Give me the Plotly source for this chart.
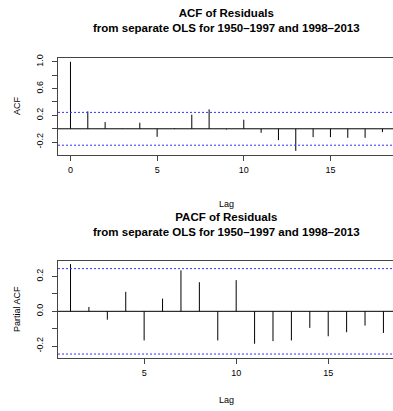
import plotly.graph_objects as go

acf_lags = list(range(0, 19))
acf_vals = [1.0, 0.26, 0.10, 0.005, 0.09, -0.12, 0.01, 0.21, 0.29, -0.01, 0.135,
            -0.06, -0.17, -0.33, -0.125, -0.125, -0.135, -0.135, -0.05]
pacf_lags = list(range(1, 19))
pacf_vals = [0.271, 0.025, -0.048, 0.112, -0.167, 0.073, 0.235, 0.167, -0.167, 0.179,
             -0.186, -0.171, -0.167, -0.095, -0.143, -0.12, -0.082, -0.124]
conf = 0.245
acf_ticks = [-0.2, 0.0, 0.2, 0.4, 0.6, 0.8, 1.0]
acf_ticklabels = ["-0.2", "", "0.2", "", "0.6", "", "1.0"]
pacf_ticks = [-0.2, -0.1, 0.0, 0.1, 0.2]
pacf_ticklabels = ["-0.2", "", "0.0", "", "0.2"]
lag_ticks_top = [0, 5, 10, 15]
lag_ticks_bot = [5, 10, 15]
title_top = "<b>ACF of Residuals<br>from separate OLS for 1950\u20131997 and 1998\u20132013</b>"
title_bot = "<b>PACF of Residuals<br>from separate OLS for 1950\u20131997 and 1998\u20132013</b>"

W, H = 393, 411
FONT = "Liberation Sans, Arial, Helvetica, sans-serif"


def stems(lags, vals):
    xs, ys = [], []
    for l, v in zip(lags, vals):
        xs += [l, l, None]
        ys += [0, v, None]
    return xs, ys


fig = go.Figure()
x1, y1 = stems(acf_lags, acf_vals)
fig.add_trace(go.Scatter(x=x1, y=y1, mode="lines", line=dict(color="black", width=1),
                         xaxis="x", yaxis="y", showlegend=False, hoverinfo="skip"))
x2, y2 = stems(pacf_lags, pacf_vals)
fig.add_trace(go.Scatter(x=x2, y=y2, mode="lines", line=dict(color="black", width=1),
                         xaxis="x2", yaxis="y2", showlegend=False, hoverinfo="skip"))


def px_x(p):
    return p / W


def px_y(p):
    return (H - p) / H


top_dom = [px_y(152), px_y(54.7)]
bot_dom = [px_y(357), px_y(259.3)]
xdom = [px_x(58), 1.0]

axis_common = dict(showgrid=False, zeroline=False, showline=True, linecolor="#444",
                   linewidth=1, ticks="outside", ticklen=5, tickcolor="#444",
                   tickfont=dict(size=9, color="black", family=FONT))

fig.update_layout(
    width=W, height=H, margin=dict(l=0, r=0, t=0, b=0),
    plot_bgcolor="white", paper_bgcolor="white",
    font=dict(family=FONT, color="black"),
    xaxis=dict(domain=xdom, anchor="y", range=[-0.72, 18.61], tickvals=lag_ticks_top,
               mirror=True, ticklabelstandoff=2, **axis_common),
    yaxis=dict(domain=top_dom, anchor="x", range=[-0.384, 1.054], tickvals=acf_ticks,
               ticktext=acf_ticklabels, tickangle=-90, ticklabelstandoff=5,
               **axis_common),
    xaxis2=dict(domain=xdom, anchor="y2", range=[0.32, 18.52], tickvals=lag_ticks_bot,
                mirror=True, ticklabelstandoff=2, **axis_common),
    yaxis2=dict(domain=bot_dom, anchor="x2", range=[-0.265, 0.29], tickvals=pacf_ticks,
                ticktext=pacf_ticklabels, tickangle=-90, ticklabelstandoff=5,
                **axis_common),
)

# zero lines and confidence bands
for xr, yr in (("x", "y"), ("x2", "y2")):
    fig.add_shape(type="line", xref=xr + " domain", yref=yr, x0=0, x1=1, y0=0, y1=0,
                  line=dict(color="black", width=1))
    for c in (conf, -conf):
        fig.add_shape(type="line", xref=xr + " domain", yref=yr, x0=0, x1=1, y0=c, y1=c,
                      line=dict(color="#3333ff", width=1, dash="2px,2px"))

ann_font = dict(size=9, family=FONT, color="black")
for txt, x, y, ang in (("Lag", 226.7, 202, 0), ("Lag", 226.7, 399.5, 0),
                       ("ACF", 17, 103, -90), ("Partial ACF", 17, 308, -90)):
    fig.add_annotation(text=txt, xref="paper", yref="paper", x=px_x(x), y=px_y(y),
                       xanchor="center", yanchor="middle", showarrow=False,
                       textangle=ang, font=ann_font)

fig.add_annotation(text=title_top, xref="paper", yref="paper", x=px_x(226), y=px_y(17),
                   xanchor="center", yanchor="middle", showarrow=False,
                   font=dict(size=11.5, family=FONT, color="black"))
fig.add_annotation(text=title_bot, xref="paper", yref="paper", x=px_x(226), y=px_y(223),
                   xanchor="center", yanchor="middle", showarrow=False,
                   font=dict(size=11.5, family=FONT, color="black"))

fig.write_html("out.html")
